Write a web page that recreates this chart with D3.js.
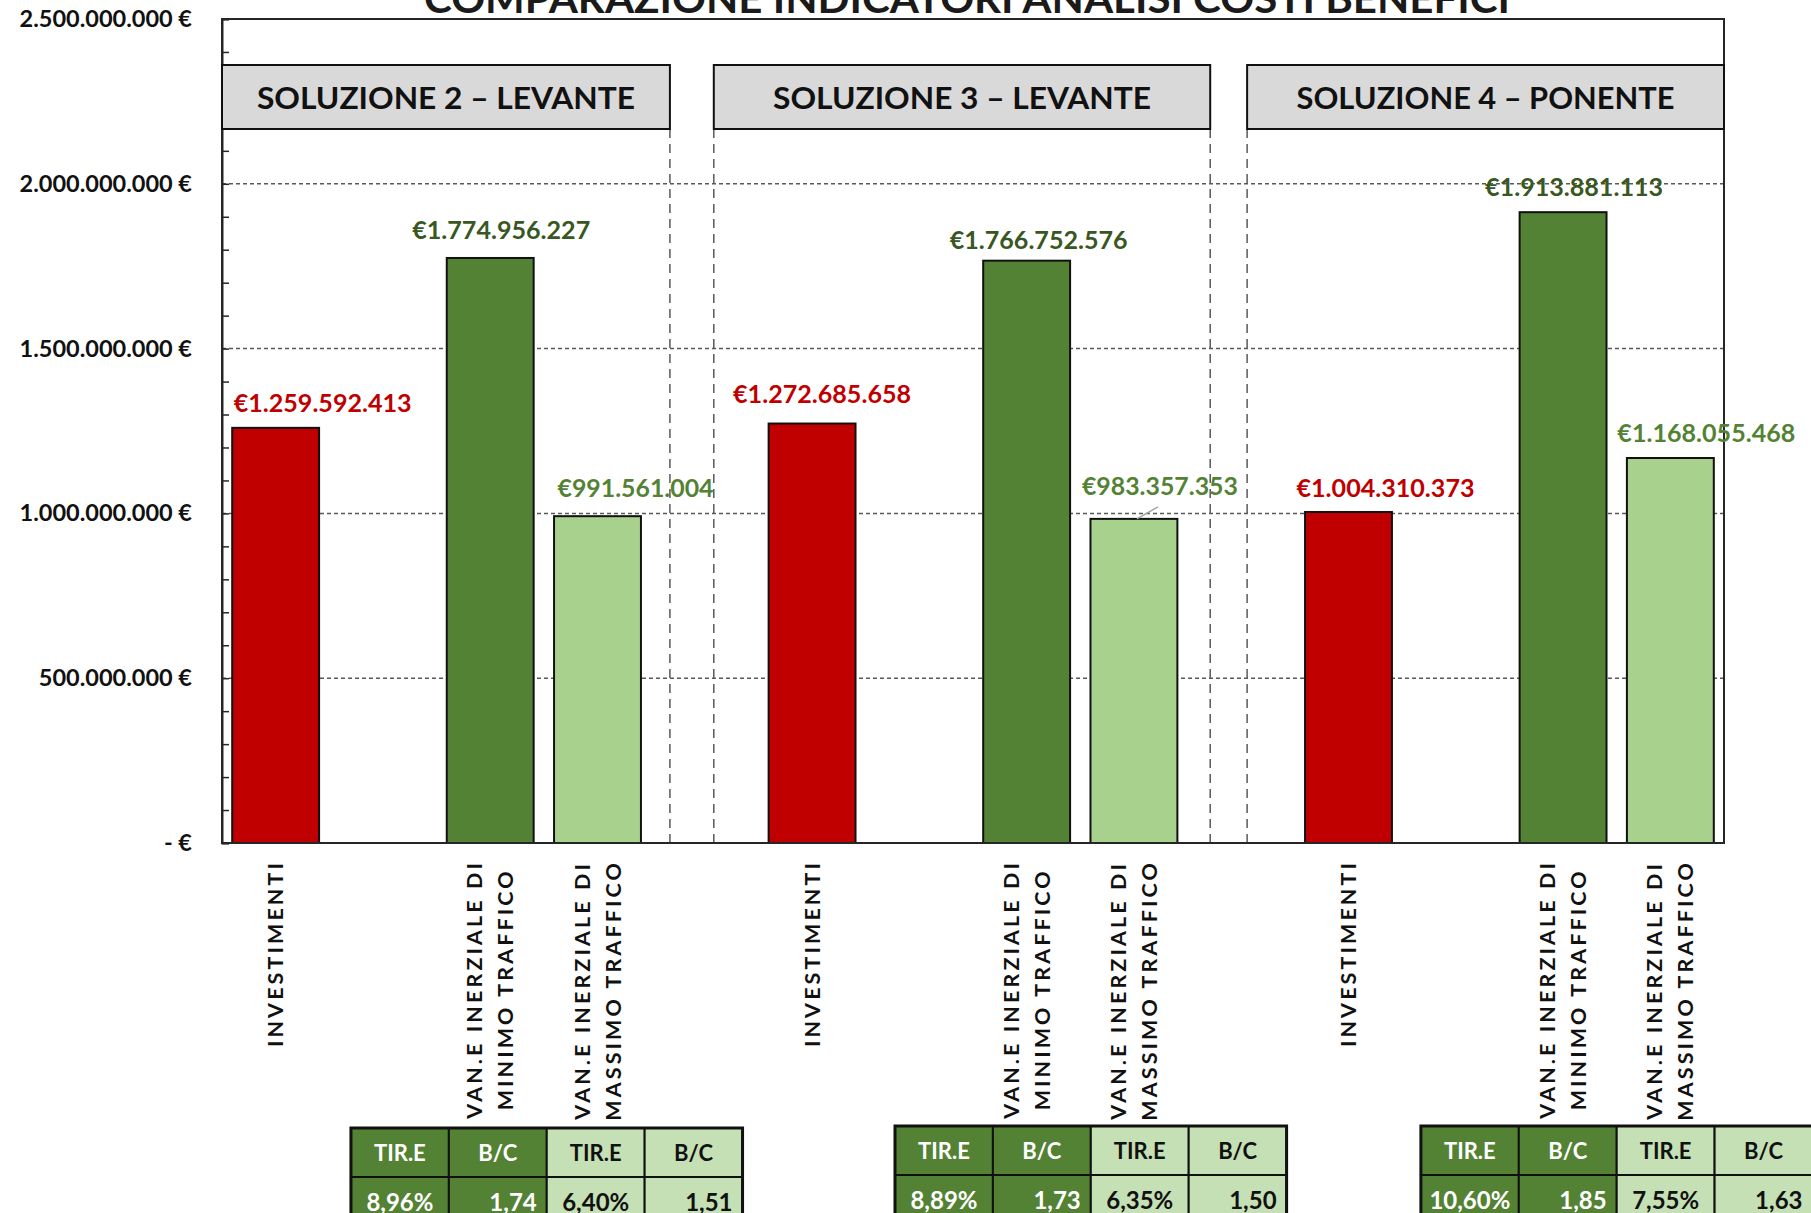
<!DOCTYPE html>
<html>
<head>
<meta charset="utf-8">
<script src="https://cdn.jsdelivr.net/npm/d3@7"></script>
<style>
  html, body { margin: 0; padding: 0; background: #ffffff; }
  svg { display: block; font-family: Lato, "Open Sans", sans-serif; }
</style>
</head>
<body>
<svg id="chart" width="1811" height="1213"></svg>
<script>
// ---- data ----
const solutions = ["SOLUZIONE 2 – LEVANTE", "SOLUZIONE 3 – LEVANTE", "SOLUZIONE 4 – PONENTE"];
const categories = [
  ["INVESTIMENTI"],
  ["VAN.E INERZIALE DI", "MINIMO TRAFFICO"],
  ["VAN.E INERZIALE DI", "MASSIMO TRAFFICO"]
];
const investimenti = [1259592413, 1272685658, 1004310373];
const vanMinimo    = [1774956227, 1766752576, 1913881113];
const vanMassimo   = [991561004, 983357353, 1168055468];
const tirMinimo = ["8,96%", "8,89%", "10,60%"];
const bcMinimo  = ["1,74", "1,73", "1,85"];
const tirMassimo = ["6,40%", "6,35%", "7,55%"];
const bcMassimo  = ["1,51", "1,50", "1,63"];
const yTicks = [0, 500000000, 1000000000, 1500000000, 2000000000, 2500000000];
const yTickLabels = ["- €", "500.000.000 €", "1.000.000.000 €", "1.500.000.000 €", "2.000.000.000 €", "2.500.000.000 €"];
const title = "COMPARAZIONE INDICATORI ANALISI COSTI BENEFICI";

// ---- layout ----
const W = 1811, H = 1213;
const plot = { left: 222, right: 1724, top: 19, bottom: 843 };
const SLOTS = 14;            // 4 slots per solution + 1 spacer slot between solutions
const slotOf = [0, 2, 3];    // slot of each category inside a solution block
const blockSlots = 5;
// data label nudges (dx, dy from bar centre / top) per solution, per category
const labelNudge = [
  [[47, -25], [11, -28], [38, -28]],
  [[10, -30], [12, -21], [26, -33]],
  [[37, -24], [11, -25], [36, -25]]
];
// header boxes and separators expressed in slot units
const headerSpans = [[0, 4.175], [4.584, 9.211], [9.555, 14]];
const separators = [4.175, 4.584, 9.211, 9.555];
const tableLeft = [1.202, 6.273, 11.175];
const tableWidthSlots = 3.65;

const colors = {
  inv: "#c00000", min: "#548235", max: "#a9d18e",
  invLabel: "#c00000", minLabel: "#385723", maxLabel: "#548235",
  tabDark: "#548235", tabLight: "#c5e0b4", header: "#d9d9d9",
  axis: "#262626", grid: "#595959"
};

const svg = d3.select("#chart");

const y = d3.scaleLinear().domain([0, 2500000000]).range([plot.bottom, plot.top]);
const x = d3.scaleBand().domain(d3.range(SLOTS)).range([plot.left, plot.right])
  .paddingInner(0.19).paddingOuter(0.095);
const slotX = d3.scaleLinear().domain([0, SLOTS]).range([plot.left, plot.right]);

// build bars table
const series = [investimenti, vanMinimo, vanMassimo];
const fills = [colors.inv, colors.min, colors.max];
const labelFills = [colors.invLabel, colors.minLabel, colors.maxLabel];
const bars = [];
solutions.forEach((s, g) => {
  series.forEach((vals, c) => {
    bars.push({ g, c, slot: g * blockSlots + slotOf[c], value: vals[g] });
  });
});

const fmtEuro = v => "€" + d3.format(",")(v).replace(/,/g, ".");

// ---- title (partly above the page top) ----
svg.append("text")
  .attr("x", 967).attr("y", 13)
  .attr("text-anchor", "middle")
  .attr("font-size", 40).attr("font-weight", 700)
  .attr("textLength", 1086).attr("lengthAdjust", "spacingAndGlyphs")
  .attr("fill", "#1a1a1a")
  .text(title);

// ---- gridlines ----
svg.append("g").selectAll("line")
  .data(yTicks.filter(t => t > 0 && t < 2500000000))
  .join("line")
  .attr("x1", plot.left).attr("x2", plot.right)
  .attr("y1", d => y(d)).attr("y2", d => y(d))
  .attr("stroke", colors.grid).attr("stroke-width", 1.5)
  .attr("stroke-dasharray", "4,3");

// ---- separators ----
svg.append("g").selectAll("line")
  .data(separators)
  .join("line")
  .attr("x1", d => slotX(d)).attr("x2", d => slotX(d))
  .attr("y1", 129).attr("y2", plot.bottom)
  .attr("stroke", colors.grid).attr("stroke-width", 1.5)
  .attr("stroke-dasharray", "9,6");

// ---- bars ----
svg.append("g").selectAll("rect")
  .data(bars)
  .join("rect")
  .attr("x", d => x(d.slot))
  .attr("width", x.bandwidth())
  .attr("y", d => y(d.value))
  .attr("height", d => y(0) - y(d.value))
  .attr("fill", d => fills[d.c])
  .attr("stroke", "#111").attr("stroke-width", 2);

// ---- plot border ----
svg.append("rect")
  .attr("x", plot.left).attr("y", plot.top)
  .attr("width", plot.right - plot.left).attr("height", plot.bottom - plot.top)
  .attr("fill", "none").attr("stroke", colors.axis).attr("stroke-width", 2);

// ---- y axis ----
const yAxis = d3.axisLeft(y)
  .tickValues(d3.range(0, 2500000001, 100000000))
  .tickSize(-7)
  .tickFormat("");
const ya = svg.append("g").attr("transform", `translate(${plot.left},0)`).call(yAxis);
ya.select(".domain").attr("stroke", colors.axis).attr("stroke-width", 2);
ya.selectAll(".tick line").attr("stroke", colors.axis).attr("stroke-width", 1.5);

svg.append("g").selectAll("text")
  .data(yTicks)
  .join("text")
  .attr("x", 192).attr("y", d => y(d) + 8)
  .attr("text-anchor", "end")
  .attr("font-size", 23.5).attr("font-weight", 700)
  .attr("fill", "#111")
  .text((d, i) => yTickLabels[i]);

// ---- header boxes ----
const headers = svg.append("g");
headerSpans.forEach((sp, i) => {
  const x0 = slotX(sp[0]), x1 = slotX(sp[1]);
  headers.append("rect")
    .attr("x", x0).attr("y", 65).attr("width", x1 - x0).attr("height", 64)
    .attr("fill", colors.header).attr("stroke", "#111").attr("stroke-width", 2);
  headers.append("text")
    .attr("x", (x0 + x1) / 2).attr("y", 109)
    .attr("text-anchor", "middle")
    .attr("font-size", 31).attr("font-weight", 700).attr("fill", "#111")
    .attr("textLength", 378).attr("lengthAdjust", "spacingAndGlyphs")
    .text(solutions[i]);
});

// ---- data labels ----
svg.append("g").selectAll("text")
  .data(bars)
  .join("text")
  .attr("x", d => x(d.slot) + x.bandwidth() / 2 + labelNudge[d.g][d.c][0])
  .attr("y", d => y(d.value) + labelNudge[d.g][d.c][1] + 9)
  .attr("text-anchor", "middle")
  .attr("font-size", 25).attr("font-weight", 700)
  .attr("fill", d => labelFills[d.c])
  .attr("textLength", d => d.value >= 1e9 ? 178 : 156)
  .attr("lengthAdjust", "spacingAndGlyphs")
  .text(d => fmtEuro(d.value));

// leader line for the shifted label of solution 3 / massimo traffico
{
  const b = bars.find(d => d.g === 1 && d.c === 2);
  const cx = x(b.slot) + x.bandwidth() / 2;
  svg.append("line")
    .attr("x1", cx + 3).attr("y1", y(b.value))
    .attr("x2", cx + 24).attr("y2", y(b.value) - 12)
    .attr("stroke", "#a6a6a6").attr("stroke-width", 1.5);
}

// ---- category labels (rotated, stacked lines centred on each other) ----
const catG = svg.append("g");
const labelTop = 860, lineGap = 31, capH = 15;
bars.forEach(d => {
  const lines = categories[d.c];
  const cx = x(d.slot) + x.bandwidth() / 2;
  const nodes = lines.map((ln, k) => {
    const off = (k - (lines.length - 1) / 2) * lineGap;
    return catG.append("text")
      .attr("font-size", 21.5).attr("font-weight", 700).attr("fill", "#111")
      .attr("letter-spacing", "3.1px")
      .attr("text-anchor", "middle")
      .datum(cx + off + capH / 2)
      .text(ln);
  });
  const maxLen = d3.max(nodes, n => n.node().getComputedTextLength());
  nodes.forEach(n => {
    const bx = n.datum();
    const cy = labelTop + maxLen / 2;
    n.attr("transform", `translate(${bx},${cy}) rotate(-90)`);
  });
});

// ---- indicator tables ----
const tableG = svg.append("g");
const rowH = 49;
solutions.forEach((s, g) => {
  const tx = slotX(tableLeft[g]);
  const tw = slotX(tableLeft[g] + tableWidthSlots) - tx;
  const cw = tw / 4;
  const ty = g === 0 ? 1128 : 1126;
  const head = ["TIR.E", "B/C", "TIR.E", "B/C"];
  const vals = [tirMinimo[g], bcMinimo[g], tirMassimo[g], bcMassimo[g]];
  for (let c = 0; c < 4; c++) {
    const dark = c < 2;
    [0, 1].forEach(r => {
      tableG.append("rect")
        .attr("x", tx + c * cw).attr("y", ty + r * rowH)
        .attr("width", cw).attr("height", rowH)
        .attr("fill", dark ? colors.tabDark : colors.tabLight)
        .attr("stroke", "#111").attr("stroke-width", 2);
    });
    tableG.append("text")
      .attr("x", tx + c * cw + cw / 2).attr("y", ty + rowH / 2 + 8)
      .attr("text-anchor", "middle")
      .attr("font-size", 22).attr("font-weight", 700)
      .attr("fill", dark ? "#ffffff" : "#111")
      .text(head[c]);
    const right = c % 2 === 1;
    tableG.append("text")
      .attr("x", right ? tx + (c + 1) * cw - 10 : tx + c * cw + cw / 2)
      .attr("y", ty + rowH + rowH / 2 + 9)
      .attr("text-anchor", right ? "end" : "middle")
      .attr("font-size", 24).attr("font-weight", 700)
      .attr("fill", dark ? "#ffffff" : "#111")
      .text(vals[c]);
  }
  // outer frame
  tableG.append("rect")
    .attr("x", tx).attr("y", ty).attr("width", tw).attr("height", rowH * 2)
    .attr("fill", "none").attr("stroke", "#111").attr("stroke-width", 3);
});
</script>
</body>
</html>
